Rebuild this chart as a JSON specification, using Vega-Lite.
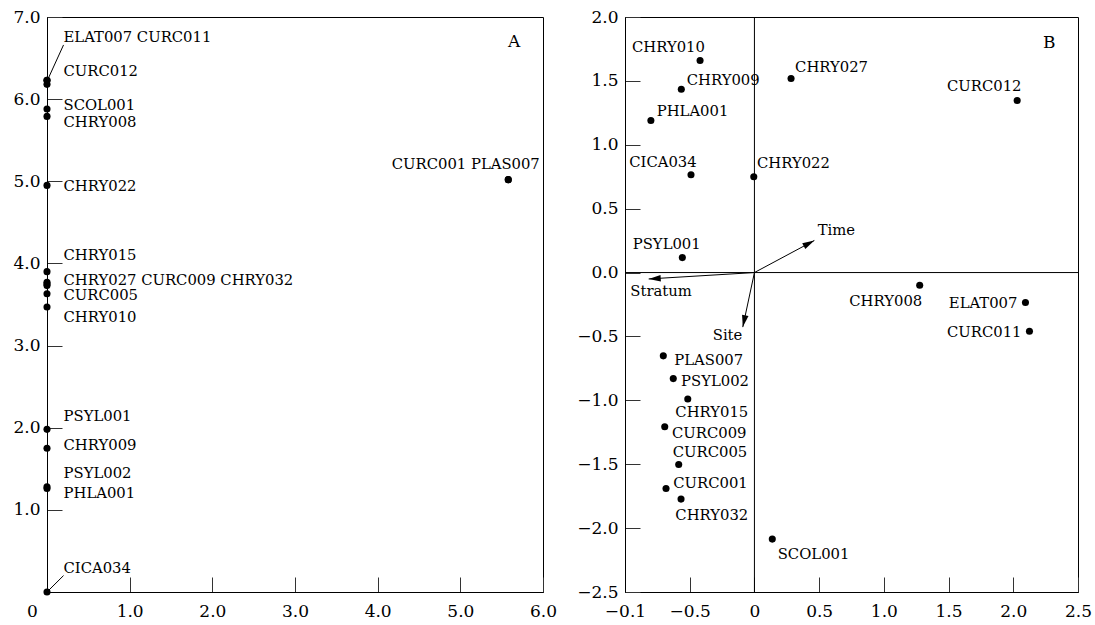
{
  "$schema": "https://vega.github.io/schema/vega-lite/v6.json",
  "padding": {"left": 12, "top": 7, "right": 5, "bottom": 5},
  "background": "white",
  "spacing": 18,
  "config": {
    "font": "DejaVu Serif",
    "view": {"stroke": "#000", "strokeWidth": 1},
    "axis": {
      "domainColor": "#000",
      "domainWidth": 1,
      "tickColor": "#333",
      "tickWidth": 1,
      "tickSize": -15,
      "labelPadding": 22,
      "labelFont": "DejaVu Serif",
      "labelFontSize": 17,
      "labelColor": "#000",
      "labelFlush": false,
      "labelOverlap": false,
      "grid": false
    },
    "axisX": {"labelPadding": 26},
    "text": {"font": "DejaVu Serif", "fontSize": 14.8, "color": "#000"}
  },
  "datasets": {
    "a_points": [
      {"species": "ELAT007", "x": 0, "y": 6.23},
      {"species": "CURC011", "x": 0, "y": 6.23},
      {"species": "CURC012", "x": 0, "y": 6.18},
      {"species": "SCOL001", "x": 0, "y": 5.88},
      {"species": "CHRY008", "x": 0, "y": 5.79},
      {"species": "CHRY022", "x": 0, "y": 4.95},
      {"species": "CHRY015", "x": 0, "y": 3.90},
      {"species": "CHRY027", "x": 0, "y": 3.77},
      {"species": "CURC009", "x": 0, "y": 3.75},
      {"species": "CHRY032", "x": 0, "y": 3.73},
      {"species": "CURC005", "x": 0, "y": 3.63},
      {"species": "CHRY010", "x": 0, "y": 3.47},
      {"species": "PSYL001", "x": 0, "y": 1.98},
      {"species": "CHRY009", "x": 0, "y": 1.75},
      {"species": "PSYL002", "x": 0, "y": 1.28},
      {"species": "PHLA001", "x": 0, "y": 1.26},
      {"species": "CICA034", "x": 0, "y": 0.0},
      {"species": "CURC001", "x": 5.58, "y": 5.02},
      {"species": "PLAS007", "x": 5.58, "y": 5.02}
    ],
    "a_labels": [
      {"text": "ELAT007 CURC011", "lx": 0.2, "ly": 6.74},
      {"text": "CURC012", "lx": 0.2, "ly": 6.33},
      {"text": "SCOL001", "lx": 0.2, "ly": 5.92},
      {"text": "CHRY008", "lx": 0.2, "ly": 5.71},
      {"text": "CHRY022", "lx": 0.2, "ly": 4.93},
      {"text": "CHRY015", "lx": 0.2, "ly": 4.09},
      {"text": "CHRY027 CURC009 CHRY032", "lx": 0.2, "ly": 3.79},
      {"text": "CURC005", "lx": 0.2, "ly": 3.60},
      {"text": "CHRY010", "lx": 0.2, "ly": 3.33},
      {"text": "PSYL001", "lx": 0.2, "ly": 2.13},
      {"text": "CHRY009", "lx": 0.2, "ly": 1.78},
      {"text": "PSYL002", "lx": 0.2, "ly": 1.44},
      {"text": "PHLA001", "lx": 0.2, "ly": 1.19},
      {"text": "CICA034", "lx": 0.2, "ly": 0.28},
      {"text": "CURC001 PLAS007", "lx": 4.17, "ly": 5.20}
    ],
    "a_leaders": [
      {"x": 0.01, "y": 6.24, "x2": 0.2, "y2": 6.66},
      {"x": 0.01, "y": 0.01, "x2": 0.2, "y2": 0.2}
    ],
    "b_points": [
      {"species": "CHRY010", "x": -0.42, "y": 1.66, "lx": -0.946, "ly": 1.755},
      {"species": "CHRY009", "x": -0.565, "y": 1.435, "lx": -0.523, "ly": 1.50},
      {"species": "PHLA001", "x": -0.80, "y": 1.19, "lx": -0.755, "ly": 1.255},
      {"species": "CICA034", "x": -0.49, "y": 0.765, "lx": -0.967, "ly": 0.856},
      {"species": "CHRY022", "x": -0.005, "y": 0.75, "lx": 0.02, "ly": 0.85},
      {"species": "PSYL001", "x": -0.557, "y": 0.117, "lx": -0.94, "ly": 0.217},
      {"species": "CHRY027", "x": 0.283, "y": 1.518, "lx": 0.314, "ly": 1.60},
      {"species": "CURC012", "x": 2.03, "y": 1.346, "lx": 1.488, "ly": 1.45},
      {"species": "CHRY008", "x": 1.277, "y": -0.10, "lx": 0.733, "ly": -0.227},
      {"species": "ELAT007", "x": 2.094, "y": -0.235, "lx": 1.502, "ly": -0.247},
      {"species": "CURC011", "x": 2.125, "y": -0.46, "lx": 1.488, "ly": -0.47},
      {"species": "PLAS007", "x": -0.704, "y": -0.652, "lx": -0.619, "ly": -0.69},
      {"species": "PSYL002", "x": -0.627, "y": -0.83, "lx": -0.567, "ly": -0.858},
      {"species": "CHRY015", "x": -0.515, "y": -0.99, "lx": -0.611, "ly": -1.10},
      {"species": "CURC009", "x": -0.693, "y": -1.207, "lx": -0.637, "ly": -1.265},
      {"species": "CURC005", "x": -0.585, "y": -1.502, "lx": -0.631, "ly": -1.413},
      {"species": "CURC001", "x": -0.683, "y": -1.69, "lx": -0.627, "ly": -1.656},
      {"species": "CHRY032", "x": -0.567, "y": -1.773, "lx": -0.611, "ly": -1.909},
      {"species": "SCOL001", "x": 0.138, "y": -2.086, "lx": 0.18, "ly": -2.21}
    ],
    "b_arrows": [
      {"variable": "Time", "x": 0.463, "y": 0.251, "lx": 0.489, "ly": 0.326},
      {"variable": "Stratum", "x": -0.817, "y": -0.05, "lx": -0.959, "ly": -0.156},
      {"variable": "Site", "x": -0.09, "y": -0.427, "lx": -0.322, "ly": -0.495}
    ],
    "panels": [
      {"panel": "A", "x": 5.65, "y": 6.70},
      {"panel": "B", "x": 2.277, "y": 1.80}
    ]
  },
  "hconcat": [
    {
      "width": 496,
      "height": 575,
      "layer": [
        {
          "data": {"name": "a_leaders"},
          "mark": {"type": "rule", "color": "#000", "strokeWidth": 1},
          "encoding": {
            "x": {"field": "x", "type": "quantitative", "title": null, "scale": {"domain": [0, 6], "nice": false, "zero": false},
              "axis": {"values": [0, 1, 2, 3, 4, 5, 6],
                "labelExpr": "datum.value == 0 ? '0' : format(datum.value, '.1f')",
                "labelOffset": {"condition": {"test": "datum.value == 0", "value": -15}, "value": 0}}},
            "y": {"field": "y", "type": "quantitative", "title": null, "scale": {"domain": [0, 7], "nice": false, "zero": false},
              "axis": {"values": [1, 2, 3, 4, 5, 6, 7], "format": ".1f"}},
            "x2": {"field": "x2"},
            "y2": {"field": "y2"}
          }
        },
        {
          "data": {"name": "a_points"},
          "mark": {"type": "circle", "color": "#000", "opacity": 1, "size": 50, "clip": false},
          "encoding": {
            "x": {"field": "x", "type": "quantitative"},
            "y": {"field": "y", "type": "quantitative"}
          }
        },
        {
          "data": {"name": "a_labels"},
          "mark": {"type": "text", "align": "left", "baseline": "middle"},
          "encoding": {
            "x": {"field": "lx", "type": "quantitative"},
            "y": {"field": "ly", "type": "quantitative"},
            "text": {"field": "text", "type": "nominal"}
          }
        },
        {
          "data": {"name": "panels"},
          "transform": [{"filter": "datum.panel == 'A'"}],
          "mark": {"type": "text", "align": "center", "baseline": "middle", "fontSize": 17},
          "encoding": {
            "x": {"field": "x", "type": "quantitative"},
            "y": {"field": "y", "type": "quantitative"},
            "text": {"field": "panel", "type": "nominal"}
          }
        }
      ]
    },
    {
      "width": 453,
      "height": 575,
      "layer": [
        {
          "data": {"values": [{"v": 0}]},
          "mark": {"type": "rule", "color": "#000", "strokeWidth": 1},
          "encoding": {
            "x": {"field": "v", "type": "quantitative", "title": null, "scale": {"domain": [-1, 2.5], "nice": false, "zero": false},
              "axis": {"values": [-1, -0.5, 0, 0.5, 1, 1.5, 2, 2.5],
                "labelExpr": "datum.value == -1 ? '\u22120.1' : datum.value == 0 ? '0' : format(datum.value, '.1f')"}}
          }
        },
        {
          "data": {"values": [{"v": 0}]},
          "mark": {"type": "rule", "color": "#000", "strokeWidth": 1},
          "encoding": {
            "y": {"field": "v", "type": "quantitative", "title": null, "scale": {"domain": [-2.5, 2], "nice": false, "zero": false},
              "axis": {"values": [-2.5, -2, -1.5, -1, -0.5, 0, 0.5, 1, 1.5, 2], "format": ".1f"}}
          }
        },
        {
          "data": {"name": "b_arrows"},
          "mark": {"type": "rule", "color": "#000", "strokeWidth": 1},
          "encoding": {
            "x": {"field": "x", "type": "quantitative"},
            "y": {"field": "y", "type": "quantitative"},
            "x2": {"datum": 0},
            "y2": {"datum": 0}
          }
        },
        {
          "data": {"name": "b_arrows"},
          "transform": [{"calculate": "atan2(datum.x, datum.y) * 180 / PI", "as": "angle"}],
          "mark": {"type": "point", "shape": "M0,0L-0.6,2.2L0.6,2.2Z", "filled": true, "color": "#000", "opacity": 1, "size": 120},
          "encoding": {
            "x": {"field": "x", "type": "quantitative"},
            "y": {"field": "y", "type": "quantitative"},
            "angle": {"field": "angle", "type": "quantitative", "scale": null}
          }
        },
        {
          "data": {"name": "b_arrows"},
          "mark": {"type": "text", "align": "left", "baseline": "middle"},
          "encoding": {
            "x": {"field": "lx", "type": "quantitative"},
            "y": {"field": "ly", "type": "quantitative"},
            "text": {"field": "variable", "type": "nominal"}
          }
        },
        {
          "data": {"name": "b_points"},
          "mark": {"type": "circle", "color": "#000", "opacity": 1, "size": 50},
          "encoding": {
            "x": {"field": "x", "type": "quantitative"},
            "y": {"field": "y", "type": "quantitative"}
          }
        },
        {
          "data": {"name": "b_points"},
          "mark": {"type": "text", "align": "left", "baseline": "middle"},
          "encoding": {
            "x": {"field": "lx", "type": "quantitative"},
            "y": {"field": "ly", "type": "quantitative"},
            "text": {"field": "species", "type": "nominal"}
          }
        },
        {
          "data": {"name": "panels"},
          "transform": [{"filter": "datum.panel == 'B'"}],
          "mark": {"type": "text", "align": "center", "baseline": "middle", "fontSize": 17},
          "encoding": {
            "x": {"field": "x", "type": "quantitative"},
            "y": {"field": "y", "type": "quantitative"},
            "text": {"field": "panel", "type": "nominal"}
          }
        }
      ]
    }
  ]
}
